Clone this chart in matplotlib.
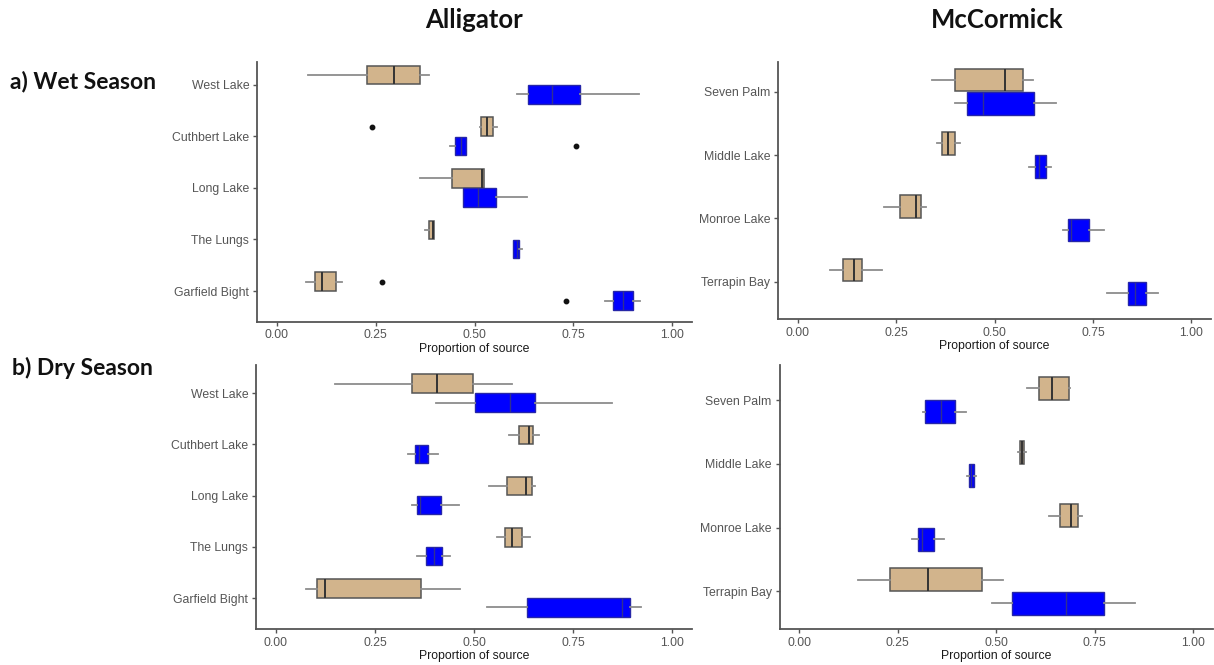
import matplotlib
matplotlib.use("Agg")
import matplotlib.pyplot as plt

#### data: [whisker low, q1, median, q3, whisker high] per site ####
# wet season, Alligator
wet_all_sites = ["Garfield Bight", "The Lungs", "Long Lake", "Cuthbert Lake", "West Lake"]
wet_all_tan = [[0.075, 0.097, 0.115, 0.149, 0.164],
               [0.374, 0.385, 0.396, 0.398, 0.398],
               [0.362, 0.442, 0.520, 0.524, 0.524],
               [0.514, 0.517, 0.532, 0.546, 0.557],
               [0.079, 0.229, 0.297, 0.362, 0.386]]
wet_all_blue = [[0.830, 0.849, 0.876, 0.901, 0.919],
                [0.598, 0.598, 0.607, 0.613, 0.620],
                [0.470, 0.470, 0.510, 0.554, 0.634],
                [0.438, 0.451, 0.465, 0.479, 0.479],
                [0.607, 0.635, 0.697, 0.767, 0.915]]
wet_all_tan_out = [[0.265], [], [], [0.241], []]
wet_all_blue_out = [[0.732], [], [], [0.756], []]

# wet season, McCormick
wet_mc_sites = ["Terrapin Bay", "Monroe Lake", "Middle Lake", "Seven Palm"]
wet_mc_tan = [[0.081, 0.116, 0.143, 0.163, 0.215],
              [0.220, 0.259, 0.301, 0.314, 0.325],
              [0.355, 0.366, 0.382, 0.400, 0.412],
              [0.342, 0.400, 0.527, 0.572, 0.598]]
wet_mc_blue = [[0.785, 0.840, 0.856, 0.885, 0.916],
               [0.674, 0.686, 0.694, 0.740, 0.779],
               [0.588, 0.602, 0.614, 0.632, 0.643],
               [0.400, 0.429, 0.472, 0.600, 0.656]]

# dry season, Alligator
dry_all_sites = wet_all_sites
dry_all_tan = [[0.076, 0.103, 0.123, 0.367, 0.464],
               [0.559, 0.579, 0.597, 0.620, 0.642],
               [0.537, 0.582, 0.631, 0.646, 0.654],
               [0.589, 0.614, 0.639, 0.650, 0.665],
               [0.150, 0.344, 0.407, 0.497, 0.595]]
dry_all_blue = [[0.533, 0.633, 0.873, 0.893, 0.921],
                [0.356, 0.380, 0.398, 0.420, 0.439],
                [0.343, 0.356, 0.364, 0.416, 0.462],
                [0.333, 0.351, 0.360, 0.385, 0.409],
                [0.404, 0.503, 0.590, 0.655, 0.847]]

# dry season, McCormick
dry_mc_sites = wet_mc_sites
dry_mc_tan = [[0.150, 0.230, 0.326, 0.465, 0.517],
              [0.635, 0.661, 0.690, 0.707, 0.717],
              [0.554, 0.560, 0.565, 0.570, 0.576],
              [0.578, 0.608, 0.642, 0.684, 0.688]]
dry_mc_blue = [[0.488, 0.539, 0.676, 0.773, 0.853],
               [0.285, 0.301, 0.311, 0.341, 0.368],
               [0.425, 0.431, 0.437, 0.443, 0.448],
               [0.313, 0.320, 0.359, 0.396, 0.424]]

x_ticks = [0.0, 0.25, 0.5, 0.75, 1.0]
x_ticklabels = ["0.00", "0.25", "0.50", "0.75", "1.00"]

TAN = "#d2b48c"
BLUE = "#0000ff"
W, H = 1214, 665


def stats(five, outs=None):
    res = []
    for i, f in enumerate(five):
        res.append(dict(whislo=f[0], q1=f[1], med=f[2], q3=f[3], whishi=f[4],
                        fliers=(outs[i] if outs else [])))
    return res


def panel(box, ylim, sites, tan, blue, tan_out=None, blue_out=None):
    l, r, t, b = box
    ax = fig.add_axes([l / W, 1 - b / H, (r - l) / W, (b - t) / H])
    pos = list(range(1, len(sites) + 1))
    common = dict(orientation="horizontal", widths=0.36, patch_artist=True,
                  showcaps=False,
                  whiskerprops=dict(color="#8c8c8c", lw=1.3),
                  flierprops=dict(marker="o", markerfacecolor="#111111",
                                  markeredgecolor="#111111", markersize=3.2))
    ax.bxp(stats(tan, tan_out), positions=[p + 0.185 for p in pos],
           boxprops=dict(facecolor=TAN, edgecolor="#555555", lw=1.1),
           medianprops=dict(color="#333333", lw=1.4), **common)
    ax.bxp(stats(blue, blue_out), positions=[p - 0.185 for p in pos],
           boxprops=dict(facecolor=BLUE, edgecolor="#2626a8", lw=1.0),
           medianprops=dict(color="#303090", lw=1.0), **common)
    ax.set_xlim(-0.05, 1.05)
    ax.set_ylim(*ylim)
    ax.set_yticks(pos)
    ax.set_yticklabels(sites)
    ax.set_xticks(x_ticks)
    ax.set_xticklabels(x_ticklabels)
    ax.tick_params(colors="#555555", labelcolor="#555555", labelsize=8.8,
                   length=3, width=1, pad=2.5)
    for s in ["top", "right"]:
        ax.spines[s].set_visible(False)
    for s in ["left", "bottom"]:
        ax.spines[s].set_color("#555555")
        ax.spines[s].set_linewidth(1.3)
    ax.set_xlabel("Proportion of source", fontsize=8.8, color="#1a1a1a", labelpad=1)
    return ax


plt.rcParams["font.family"] = ["Liberation Sans", "DejaVu Sans"]
fig = plt.figure(figsize=(W / 100, H / 100), dpi=100)

panel((257, 692, 62, 321.5), (0.41, 5.44), wet_all_sites, wet_all_tan, wet_all_blue,
      wet_all_tan_out, wet_all_blue_out)
panel((778, 1211, 62, 319), (0.41, 4.47), wet_mc_sites, wet_mc_tan, wet_mc_blue)
panel((256, 692, 365, 629), (0.395, 5.55), dry_all_sites, dry_all_tan, dry_all_blue)
panel((779.5, 1213, 365, 629), (0.41, 4.55), dry_mc_sites, dry_mc_tan, dry_mc_blue)

# column / row headings
hd = dict(family=["Lato", "DejaVu Sans"], fontweight="bold", color="#111111")
fig.text(474 / W, 1 - 20 / H, "Alligator", ha="center", va="center", fontsize=18.5, **hd)
fig.text(997 / W, 1 - 20 / H, "McCormick", ha="center", va="center", fontsize=18.5, **hd)
fig.text(10 / W, 1 - 82 / H, "a) Wet Season", ha="left", va="center", fontsize=16.5, **hd)
fig.text(12 / W, 1 - 368 / H, "b) Dry Season", ha="left", va="center", fontsize=16.5, **hd)

fig.savefig("out.png", dpi=100)
